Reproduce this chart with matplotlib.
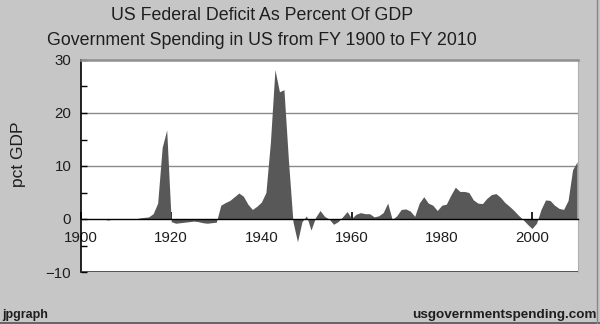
import matplotlib
matplotlib.use("Agg")
import matplotlib.pyplot as plt
from matplotlib.ticker import MultipleLocator

plt.rcParams['font.family'] = ['Liberation Sans', 'DejaVu Sans']

# Deficit as percent of GDP, one value per fiscal year
years = list(range(1900, 2011))
deficit = [
    0.0, 0.0, 0.0, 0.0, 0.0, 0.0, -0.2, 0.0, 0.0, 0.0,          # 1900s
    0.0, 0.0, 0.0, 0.2, 0.3, 0.4, 1.0, 3.0, 13.5, 16.8,         # 1910s
    -0.5, -0.8, -0.7, -0.6, -0.5, -0.4, -0.5, -0.7, -0.8, -0.7, # 1920s
    -0.6, 2.6, 3.1, 3.5, 4.2, 4.9, 4.3, 2.8, 1.8, 2.4,          # 1930s
    3.2, 5.0, 14.5, 28.2, 24.0, 24.4, 11.0, -0.5, -4.3, -0.5,   # 1940s
    0.6, -2.1, 0.3, 1.6, 0.5, 0.0, -1.0, -0.5, 0.4, 1.4,        # 1950s
    0.1, 0.9, 1.2, 1.0, 1.0, 0.4, 0.6, 1.2, 3.0, -0.1,          # 1960s
    0.6, 1.8, 1.9, 1.5, 0.5, 3.0, 4.2, 3.0, 2.6, 1.6,           # 1970s
    2.6, 2.8, 4.5, 6.0, 5.2, 5.2, 5.0, 3.6, 3.0, 2.9,           # 1980s
    3.9, 4.6, 4.8, 4.1, 3.1, 2.4, 1.6, 0.7, -0.1, -1.0,         # 1990s
    -1.8, -0.8, 1.8, 3.6, 3.5, 2.6, 2.0, 1.8, 3.5, 9.3,         # 2000s
    10.8,
]

y_ticks = [-10, 0, 10, 20, 30]
x_ticks = [1900, 1920, 1940, 1960, 1980, 2000]

bg = '#c6c6c6'
txt = '#1e1e1e'
fig = plt.figure(figsize=(6, 3.24), dpi=100, facecolor=bg)
ax = fig.add_axes([81/600, 1 - 272/324, 497/600, 212/324])
ax.set_facecolor('white')

ax.fill_between(years, deficit, 0, color='#585858', lw=0, zorder=2)

ax.set_xlim(1900, 2010.2)
ax.set_ylim(-10, 30)
ax.set_yticks(y_ticks)
ax.yaxis.set_minor_locator(MultipleLocator(5))
ax.set_xticks(x_ticks)

# grid at 10 and 20 only
for g in [10, 20]:
    ax.axhline(g, color='#8a8a8a', lw=1, zorder=1)
ax.axhline(-10, color='#333333', lw=1.2, zorder=3)

ax.spines['bottom'].set_position(('data', 0))
ax.spines['bottom'].set_color('black')
ax.spines['bottom'].set_linewidth(1)
ax.spines['bottom'].set_zorder(4)
ax.spines['left'].set_color('black')
ax.spines['left'].set_linewidth(1.2)
ax.spines['top'].set_color('#8f8f8f')
ax.spines['top'].set_linewidth(1.8)
ax.spines['right'].set_color('#b0b0b0')
ax.spines['right'].set_linewidth(0.8)

ax.tick_params(axis='y', which='major', direction='in', length=4, width=1,
               pad=7, labelsize=10.8, colors='black')
ax.tick_params(axis='y', which='minor', direction='in', length=4, width=1)
ax.tick_params(axis='x', direction='in', length=5, width=1.2, pad=8.5,
               labelsize=10.8)
for lbl in ax.get_yticklabels() + ax.get_xticklabels():
    lbl.set_color(txt)

fig.text(262/600, 1 - 20/324, 'US Federal Deficit As Percent Of GDP',
         ha='center', va='baseline', fontsize=12.8, color=txt)
fig.text(262/600, 1 - 45/324, 'Government Spending in US from FY 1900 to FY 2010',
         ha='center', va='baseline', fontsize=12.8, color=txt)
fig.text(18.5/600, 1 - 154/324, 'pct GDP', rotation=90, ha='center',
         va='center', fontsize=12.5, color=txt)
fig.text(2/600, 1 - 318/324, 'jpgraph', ha='left', va='baseline',
         fontsize=9, fontweight='bold', color=txt)
fig.text(597/600, 1 - 318/324, 'usgovernmentspending.com', ha='right',
         va='baseline', fontsize=9.7, fontweight='bold', color=txt)

# thin dark edge at bottom/right of the image
fig.add_artist(plt.Line2D([0, 1], [1.5/324, 1.5/324], color='#555555', lw=1.2))
fig.add_artist(plt.Line2D([1 - 3/600, 1 - 3/600], [0, 1], color='#888888', lw=1))

fig.savefig('out.png', dpi=100, facecolor=bg)
